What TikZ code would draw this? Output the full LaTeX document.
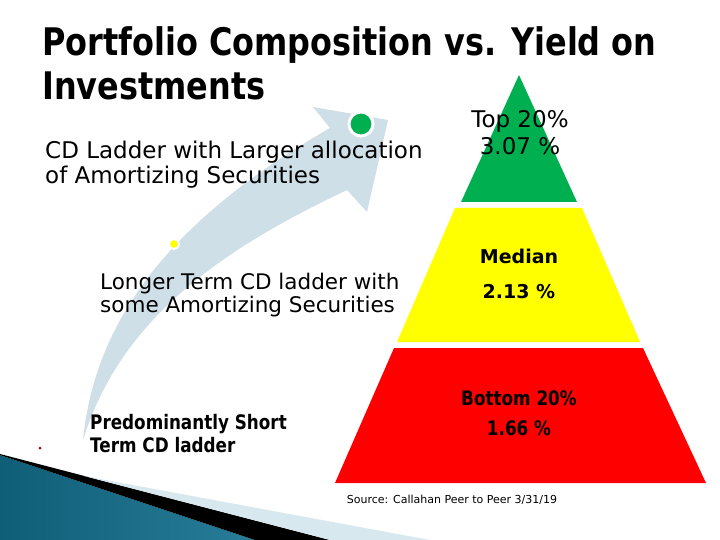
\documentclass[tikz,border=0pt]{standalone}
\usepackage{fontspec}
\setmainfont{DejaVu Sans}
\newfontfamily\narrowfont{DejaVu Sans}[FakeStretch=0.84]
\usetikzlibrary{positioning}

\definecolor{pyrgreen}{HTML}{00B050}
\definecolor{pyryellow}{HTML}{FFFF00}
\definecolor{pyrred}{HTML}{FF0000}
\definecolor{arrowblue}{HTML}{CFDFE7}
\definecolor{bandblue}{HTML}{D8E8EF}
\definecolor{tealdark}{HTML}{0F5E78}
\definecolor{teallight}{HTML}{62C4E2}

\begin{document}
\begin{tikzpicture}[
        x=1pt, y=-1pt,
        % title text
        titletext/.style={
            font=\narrowfont\bfseries\fontsize{38}{44}\selectfont,
            align=left, inner sep=0pt, anchor=north west
        },
        % text beside the arrow
        sidetext/.style={
            font=\fontsize{23}{25}\selectfont,
            align=left, inner sep=0pt, anchor=west
        },
        % text in the pyramid
        pyrtext/.style={
            align=center, inner sep=0pt
        },
        % dots on the arrow
        dot/.style={
            circle, inner sep=0pt, draw=white
        }
    ]

    \fill[white] (0,0) rectangle (720,540);
    \useasboundingbox (0,0) rectangle (720,540);

    % --- BANDE DU BAS ---
    \shade[left color=tealdark, middle color=teallight, right color=tealdark!70!teallight]
        (0,455) -- (255,540) -- (0,540) -- cycle;
    \fill[black] (0,454) -- (330,540) -- (255,540) -- (0,455) -- cycle;
    \fill[bandblue] (84,476) -- (430,540) -- (330,540) -- cycle;

    % --- FLÈCHE COURBE ---
    \fill[arrowblue] (83,440) .. controls (95,320) and (170,220) .. (330,128)
        -- (313,107) -- (388,120) -- (367,212) -- (347,190)
        .. controls (220,250) and (120,320) .. (83,440) -- cycle;

    \node[dot, fill=pyrgreen, minimum size=24pt, line width=3pt] (topdot) at (361,124) {};
    \node[dot, fill=pyryellow, minimum size=10pt, line width=2pt] (middot) at (174,244) {};
    \node[circle, inner sep=0pt, minimum size=3pt, fill=red!60!black] (lowdot) at (40,448) {};

    % --- TITRE ---
    \node[titletext] (title) at (42,26) {Portfolio Composition vs. Yield on\\Investments};

    % --- TEXTES ---
    \node[sidetext] (larger) at (45,165) {CD Ladder with Larger allocation\\of Amortizing Securities};
    \node[sidetext, font=\fontsize{21.5}{23}\selectfont] (longer) at (100,295) {Longer Term CD ladder with\\some Amortizing Securities};
    \node[sidetext, font=\narrowfont\bfseries\fontsize{20}{23}\selectfont] (short) at (90,434) {Predominantly Short\\Term CD ladder};

    % --- PYRAMIDE ---
    \fill[pyrgreen] (519,75) -- (577,202) -- (461,202) -- cycle;
    \fill[pyryellow] (455,208) -- (582,208) -- (640,342) -- (397,342) -- cycle;
    \fill[pyrred] (394,348) -- (643,348) -- (706,483) -- (335,483) -- cycle;

    \node[pyrtext, font=\fontsize{23}{27}\selectfont] (top) at (520,133) {Top 20\%\\3.07 \%};
    \node[pyrtext, font=\bfseries\fontsize{19}{35}\selectfont] (median) at (519,274) {Median\\2.13 \%};
    \node[pyrtext, font=\narrowfont\bfseries\fontsize{20}{30}\selectfont] (bottom) at (519,413) {Bottom 20\%\\1.66 \%};

    \node[font=\fontsize{11}{13}\selectfont] (source) at (452,500) {Source: Callahan Peer to Peer 3/31/19};

\end{tikzpicture}
\end{document}
